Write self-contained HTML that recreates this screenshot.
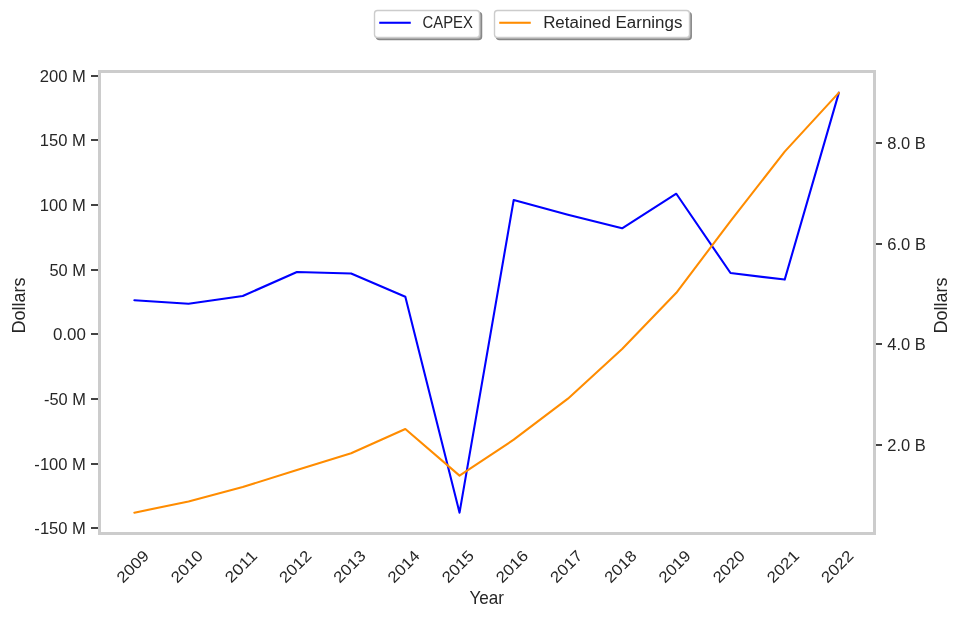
<!DOCTYPE html>
<html lang="en"><head><meta charset="utf-8"><title>CAPEX and Retained Earnings by Year</title>
<style>
html,body{margin:0;padding:0;background:#ffffff;overflow:hidden}
svg{display:block;will-change:transform}
text{font-family:"Liberation Sans",sans-serif;fill:#262626;stroke:none}
.t{font-size:15.6px}
.l{font-size:17.0px}
.g{font-size:15.6px}
</style></head><body>
<svg width="960" height="618" viewBox="0 0 960 618">
<rect x="0" y="0" width="960" height="618" fill="#ffffff"/>
<polyline points="134.35,300.27 188.55,303.76 242.74,296.00 296.94,271.96 351.13,273.51 405.33,296.78 459.53,512.66 513.72,199.94 567.92,214.69 622.12,228.32 676.31,193.74 730.51,273.03 784.70,279.59 838.90,92.66" fill="none" stroke="#0000ff" stroke-width="2.08" stroke-linejoin="round" stroke-linecap="round"/>
<polyline points="134.35,512.66 188.55,501.47 242.74,487.05 296.94,470.01 351.13,453.32 405.33,429.06 459.53,475.65 513.72,439.70 567.92,398.66 622.12,348.95 676.31,292.83 730.51,221.08 784.70,151.60 838.90,92.66" fill="none" stroke="#ff8c00" stroke-width="2.08" stroke-linejoin="round" stroke-linecap="round"/>
<g fill="#cccccc" shape-rendering="crispEdges">
<rect x="98" y="70" width="778" height="3"/>
<rect x="98" y="532" width="778" height="3"/>
<rect x="98" y="70" width="3" height="465"/>
<rect x="873" y="70" width="3" height="465"/>
</g>
<g fill="#424242" shape-rendering="crispEdges">
<rect x="91" y="527" width="7" height="2"/>
<rect x="91" y="463" width="7" height="2"/>
<rect x="91" y="398" width="7" height="2"/>
<rect x="91" y="333" width="7" height="2"/>
<rect x="91" y="269" width="7" height="2"/>
<rect x="91" y="204" width="7" height="2"/>
<rect x="91" y="139" width="7" height="2"/>
<rect x="91" y="75" width="7" height="2"/>
<rect x="876" y="444" width="6" height="2"/>
<rect x="876" y="343" width="6" height="2"/>
<rect x="876" y="243" width="6" height="2"/>
<rect x="876" y="142" width="6" height="2"/>
</g>
<g class="t">
<text x="34.36" y="534.20" textLength="51.57" lengthAdjust="spacingAndGlyphs">-150 M</text>
<text x="34.36" y="469.57" textLength="51.57" lengthAdjust="spacingAndGlyphs">-100 M</text>
<text x="43.98" y="404.93" textLength="41.95" lengthAdjust="spacingAndGlyphs">-50 M</text>
<text x="52.98" y="340.30" textLength="32.95" lengthAdjust="spacingAndGlyphs">0.00</text>
<text x="49.48" y="275.66" textLength="36.45" lengthAdjust="spacingAndGlyphs">50 M</text>
<text x="39.86" y="211.03" textLength="46.07" lengthAdjust="spacingAndGlyphs">100 M</text>
<text x="39.86" y="146.39" textLength="46.07" lengthAdjust="spacingAndGlyphs">150 M</text>
<text x="39.86" y="81.76" textLength="46.07" lengthAdjust="spacingAndGlyphs">200 M</text>
<text x="887.32" y="450.80" textLength="38.50" lengthAdjust="spacingAndGlyphs">2.0 B</text>
<text x="887.32" y="350.20" textLength="38.50" lengthAdjust="spacingAndGlyphs">4.0 B</text>
<text x="887.32" y="249.50" textLength="38.62" lengthAdjust="spacingAndGlyphs">6.0 B</text>
<text x="887.32" y="148.80" textLength="38.50" lengthAdjust="spacingAndGlyphs">8.0 B</text>
<text transform="translate(132.45,566.30) rotate(-45)" x="-19.00" y="5.60" textLength="38.00" lengthAdjust="spacingAndGlyphs">2009</text>
<text transform="translate(186.65,566.30) rotate(-45)" x="-19.00" y="5.60" textLength="38.00" lengthAdjust="spacingAndGlyphs">2010</text>
<text transform="translate(240.84,566.30) rotate(-45)" x="-19.00" y="5.60" textLength="38.00" lengthAdjust="spacingAndGlyphs">2011</text>
<text transform="translate(295.04,566.30) rotate(-45)" x="-19.00" y="5.60" textLength="38.00" lengthAdjust="spacingAndGlyphs">2012</text>
<text transform="translate(349.23,566.30) rotate(-45)" x="-19.00" y="5.60" textLength="38.00" lengthAdjust="spacingAndGlyphs">2013</text>
<text transform="translate(403.43,566.30) rotate(-45)" x="-19.00" y="5.60" textLength="38.00" lengthAdjust="spacingAndGlyphs">2014</text>
<text transform="translate(457.63,566.30) rotate(-45)" x="-19.00" y="5.60" textLength="38.00" lengthAdjust="spacingAndGlyphs">2015</text>
<text transform="translate(511.82,566.30) rotate(-45)" x="-19.00" y="5.60" textLength="38.00" lengthAdjust="spacingAndGlyphs">2016</text>
<text transform="translate(566.02,566.30) rotate(-45)" x="-19.00" y="5.60" textLength="38.00" lengthAdjust="spacingAndGlyphs">2017</text>
<text transform="translate(620.22,566.30) rotate(-45)" x="-19.00" y="5.60" textLength="38.00" lengthAdjust="spacingAndGlyphs">2018</text>
<text transform="translate(674.41,566.30) rotate(-45)" x="-19.00" y="5.60" textLength="38.00" lengthAdjust="spacingAndGlyphs">2019</text>
<text transform="translate(728.61,566.30) rotate(-45)" x="-19.00" y="5.60" textLength="38.00" lengthAdjust="spacingAndGlyphs">2020</text>
<text transform="translate(782.80,566.30) rotate(-45)" x="-19.00" y="5.60" textLength="38.00" lengthAdjust="spacingAndGlyphs">2021</text>
<text transform="translate(837.00,566.30) rotate(-45)" x="-19.00" y="5.60" textLength="38.00" lengthAdjust="spacingAndGlyphs">2022</text>
</g>
<g class="l">
<text style="font-size:18.2px" x="469.4" y="603.80" textLength="34.6" lengthAdjust="spacingAndGlyphs">Year</text>
<text style="font-size:18.4px" transform="translate(24.80,305.40) rotate(-90)" x="-28.00" y="0" textLength="56.00" lengthAdjust="spacingAndGlyphs">Dollars</text>
<text style="font-size:18.4px" transform="translate(946.80,305.40) rotate(-90)" x="-28.00" y="0" textLength="56.00" lengthAdjust="spacingAndGlyphs">Dollars</text>
</g>
<rect x="376.5" y="12.5" width="105.0" height="27.0" rx="3" ry="3" fill="#acacac" stroke="#878787" stroke-width="1.5"/>
<rect x="374.5" y="10.5" width="105.0" height="27.0" rx="3" ry="3" fill="#ffffff" stroke="#cccccc" stroke-width="1.39"/>
<line x1="379.23" y1="22.76" x2="410.77" y2="22.76" stroke="#0000ff" stroke-width="2.08"/>
<text class="g" x="422.50" y="28" textLength="50.37" lengthAdjust="spacingAndGlyphs">CAPEX</text>
<rect x="496.5" y="12.5" width="194.7" height="27.0" rx="3" ry="3" fill="#acacac" stroke="#878787" stroke-width="1.5"/>
<rect x="494.5" y="10.5" width="195.0" height="27.0" rx="3" ry="3" fill="#ffffff" stroke="#cccccc" stroke-width="1.39"/>
<line x1="499.23" y1="22.76" x2="530.77" y2="22.76" stroke="#ff8c00" stroke-width="2.08"/>
<text class="g" x="543.15" y="28" textLength="139.25" lengthAdjust="spacingAndGlyphs">Retained Earnings</text>
</svg>
</body></html>
